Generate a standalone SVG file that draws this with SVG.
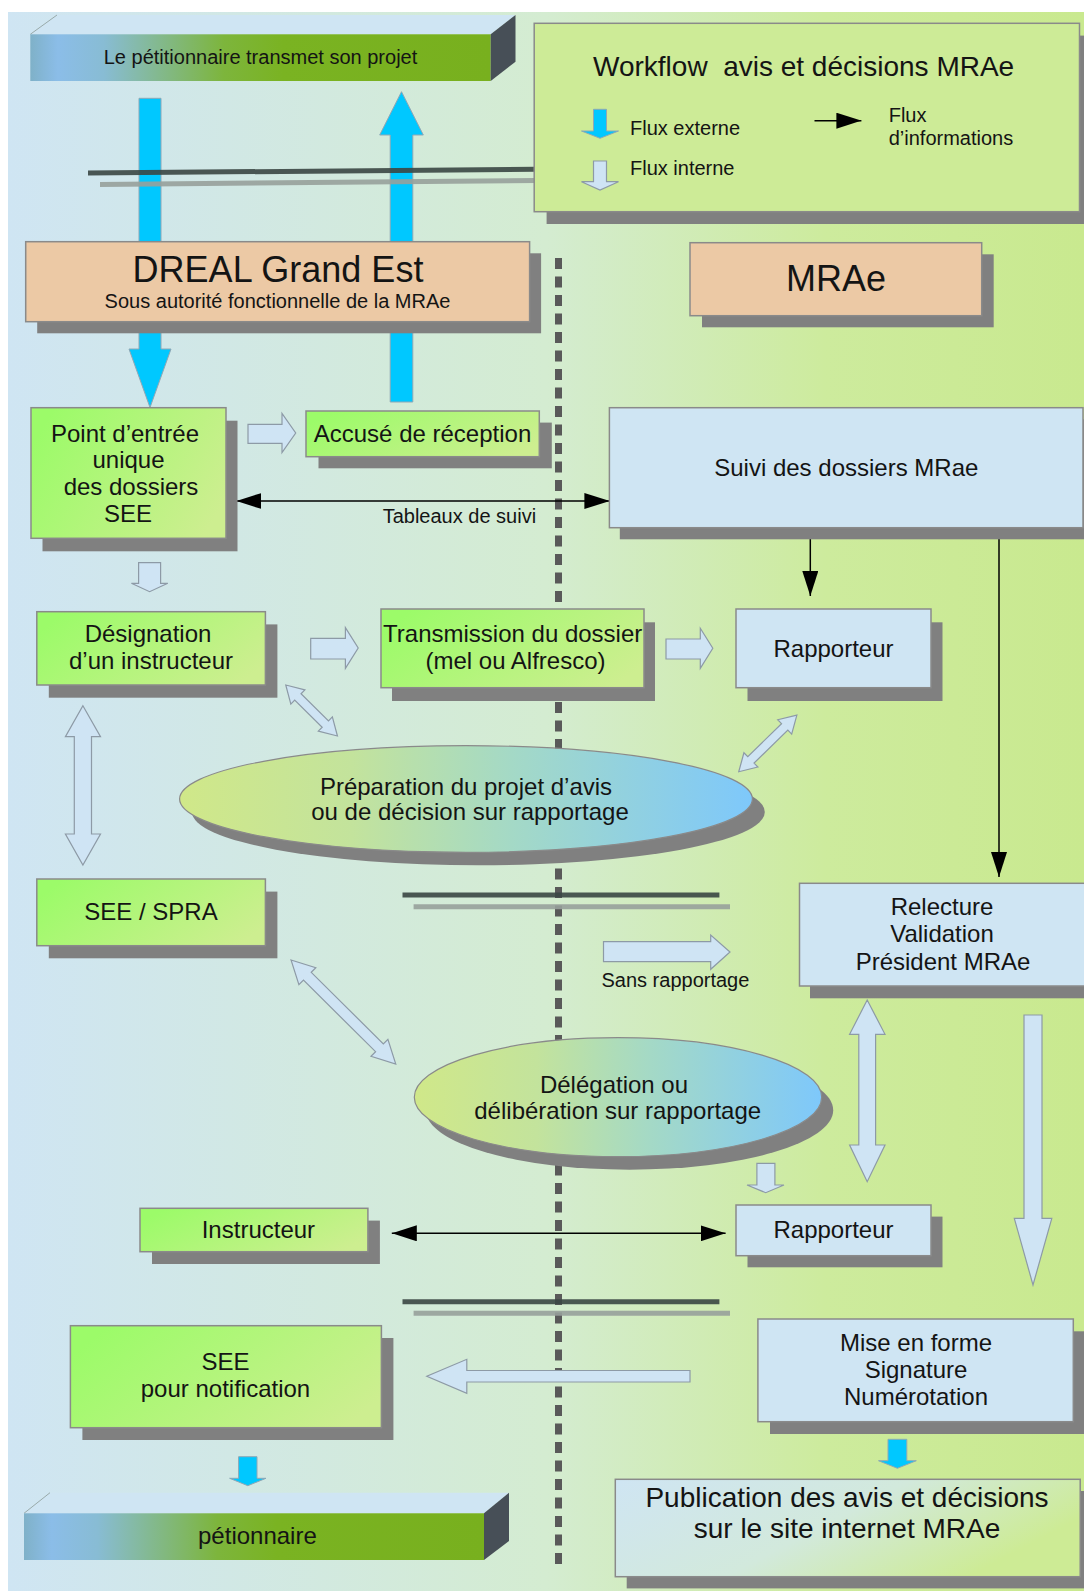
<svg xmlns="http://www.w3.org/2000/svg" width="1084" height="1591" viewBox="0 0 1084 1591">
<style>
.t{font-family:"Liberation Sans",Arial,sans-serif;fill:#141414;text-anchor:middle}
.s{text-anchor:start}
.f20{font-size:20px}.f24{font-size:24px}.f28{font-size:28px}.f36{font-size:36px}
.sh{fill:#808080}
.bx{stroke:#8a8a8a;stroke-width:1.5}
.green{fill:url(#gGreen)}
.lb{fill:#cfe5f3}
.peach{fill:#ecc9a5}
.light{fill:#cfe4f4;stroke:#8d9aa6;stroke-width:1.2}
.ext{fill:#00c8ff;stroke:#8ea8b6;stroke-width:1}
.info{stroke:#000;stroke-width:1.5;fill:none}
</style>
<defs>
<linearGradient id="gBg" x1="0" y1="0" x2="1" y2="0">
<stop offset="0" stop-color="#cfe5f3"/>
<stop offset="0.5" stop-color="#d4ecd1"/>
<stop offset="0.76" stop-color="#cdeb9d"/>
<stop offset="1" stop-color="#c9e98f"/>
</linearGradient>
<linearGradient id="gGreen" x1="0" y1="0.3" x2="1" y2="0.7">
<stop offset="0" stop-color="#9cfb69"/>
<stop offset="1" stop-color="#cdee90"/>
</linearGradient>
<linearGradient id="gEll" x1="0" y1="0" x2="1" y2="0">
<stop offset="0" stop-color="#d0e889"/>
<stop offset="0.3" stop-color="#c3e39c"/>
<stop offset="0.58" stop-color="#a4d9c6"/>
<stop offset="1" stop-color="#7ec8fb"/>
</linearGradient>
<linearGradient id="gBanner" x1="0" y1="0" x2="1" y2="0">
<stop offset="0" stop-color="#7fb1c8"/>
<stop offset="0.06" stop-color="#8bbde8"/>
<stop offset="0.16" stop-color="#88bcd4"/>
<stop offset="0.42" stop-color="#7db53c"/>
<stop offset="0.55" stop-color="#7ab322"/>
<stop offset="1" stop-color="#78b01e"/>
</linearGradient>
<linearGradient id="gPub" x1="0" y1="0" x2="1" y2="0.4">
<stop offset="0" stop-color="#cfe5f3"/>
<stop offset="0.55" stop-color="#d2e9dc"/>
<stop offset="1" stop-color="#cdeb95"/>
</linearGradient>
<marker id="ah" viewBox="0 0 25 16" markerWidth="25" markerHeight="16" refX="25" refY="8" orient="auto-start-reverse" markerUnits="userSpaceOnUse">
<path d="M0,0 L25,8 L0,16 z" fill="#000"/>
</marker>
</defs>

<!-- background -->
<rect x="8" y="12" width="1076" height="1579" fill="url(#gBg)"/>
<line x1="558.5" y1="258" x2="558.5" y2="1566" stroke="#595959" stroke-width="7" stroke-dasharray="11 7.5"/>

<g id="connectors">
<!-- external flows (blue) -->
<polygon class="ext" points="139,98.3 161,98.3 161,349 171,349 150,407.5 129,349 139,349"/>
<polygon class="ext" points="401.5,91.7 423.3,135 412.8,135 412.8,402 390.2,402 390.2,135 379.7,135"/>
<polygon class="ext" points="238.6,1456.7 257,1456.7 257,1478.3 266,1478.3 247.8,1485.7 229.6,1478.3 238.6,1478.3"/>
<polygon class="ext" points="888,1439.3 906.8,1439.3 906.8,1460.7 916.3,1460.7 897.4,1468.3 878.5,1460.7 888,1460.7"/>
<!-- internal flows (light) -->
<polygon class="light" points="248,424.3 282,424.3 282,413.3 295.7,433 282,452.7 282,443.3 248,443.3"/>
<polygon class="light" points="310.7,638.3 345.4,638.3 345.4,627.7 358.2,648 345.4,668.3 345.4,659 310.7,659"/>
<polygon class="light" points="666,639 700.3,639 700.3,628.3 712.8,648.3 700.3,668.3 700.3,659 666,659"/>
<polygon class="light" points="603.5,941.7 710.7,941.7 710.7,935 730,952 710.7,969.3 710.7,961.7 603.5,961.7"/>
<polygon class="light" points="690,1370.5 466.8,1370.5 466.8,1359.3 426.8,1376.3 466.8,1393.3 466.8,1382 690,1382"/>
<polygon class="light" points="138.6,562.7 160.6,562.7 160.6,583.3 167.8,583.3 149.6,591.7 131.4,583.3 138.6,583.3"/>
<polygon class="light" points="756.9,1163.3 774.9,1163.3 774.9,1185 784,1185 765.7,1192.7 747,1185 756.9,1185"/>
<polygon class="light" points="1024,1015 1042,1015 1042,1218.3 1051.8,1218.3 1033,1285 1014.3,1218.3 1024,1218.3"/>
<polygon class="light" points="82.9,705.7 100.5,736.7 91.5,736.7 91.5,834 100.5,834 82.9,865 65.4,834 74.3,834 74.3,736.7 65.4,736.7"/>
<polygon class="light" points="867.2,1000 885,1034.3 875.6,1034.3 875.6,1145 885,1145 867.2,1181.7 849.6,1145 858.8,1145 858.8,1034.3 849.6,1034.3"/>
<polygon class="light" transform="translate(311.6,710.5) rotate(44.6)" points="-36.3,0 -19.3,-10 -19.3,-4.5 19.3,-4.5 19.3,-10 36.3,0 19.3,10 19.3,4.5 -19.3,4.5 -19.3,10"/>
<polygon class="light" transform="translate(767.8,743.4) rotate(-44.3)" points="-40.6,0 -23.6,-10 -23.6,-4.5 23.6,-4.5 23.6,-10 40.6,0 23.6,10 23.6,4.5 -23.6,4.5 -23.6,10"/>
<polygon class="light" transform="translate(343.4,1012) rotate(44.8)" points="-73.8,0 -50.8,-12 -50.8,-5.5 50.8,-5.5 50.8,-12 73.8,0 50.8,12 50.8,5.5 -50.8,5.5 -50.8,12"/>
<!-- information flows -->
<path class="info" d="M236.4,501 H609.4" marker-start="url(#ah)" marker-end="url(#ah)"/>
<path class="info" d="M810.3,528 V596" marker-end="url(#ah)"/>
<path class="info" d="M999,528 V877" marker-end="url(#ah)"/>
<path class="info" d="M391.8,1233.3 H725.6" marker-start="url(#ah)" marker-end="url(#ah)"/>
</g>

<!-- separators -->
<g id="separators" stroke-width="5" opacity="0.9">
<line x1="88" y1="173" x2="536" y2="169.3" stroke="#3b4744"/>
<line x1="100" y1="184.5" x2="536" y2="180.5" stroke="#98a19c"/>
<line x1="402.5" y1="895" x2="719.4" y2="895" stroke="#3b4744"/>
<line x1="413.6" y1="906.7" x2="730" y2="906.7" stroke="#98a19c"/>
<line x1="402.5" y1="1301.7" x2="719.4" y2="1301.7" stroke="#3b4744"/>
<line x1="413.6" y1="1313.3" x2="730" y2="1313.3" stroke="#98a19c"/>
</g>

<g id="banner-top">
<polygon points="30.3,34.3 57,15 515.5,15 490.7,34.3" fill="#cfe5f3"/>
<line x1="30.3" y1="34.3" x2="57" y2="15" stroke="#9aa" stroke-width="1"/>
<rect x="30.3" y="34.3" width="460.4" height="46.7" fill="url(#gBanner)"/>
<polygon points="490.7,34.3 515.5,15 515.5,61.7 490.7,81" fill="#474f57"/>
<text class="t f20" x="260.5" y="64">Le pétitionnaire transmet son projet</text>
</g>

<g id="legend">
<rect class="sh" x="546.6" y="35.6" width="545" height="188.4"/>
<rect x="534.2" y="23.3" width="545.3" height="188.4" fill="#cdeb97" class="bx"/>
<text class="t s f28" x="593" y="76" xml:space="preserve">Workflow  avis et décisions MRAe</text>
<polygon class="ext" points="593.5,109.3 606.5,109.3 606.5,131 618.5,131 600,138.3 581.5,131 593.5,131"/>
<text class="t s f20" x="630" y="135">Flux externe</text>
<polygon class="light" points="593.5,161 606.5,161 606.5,181.7 618.5,181.7 600,190 581.5,181.7 593.5,181.7"/>
<text class="t s f20" x="630" y="175">Flux interne</text>
<path class="info" d="M814.5,120.7 H861.4" marker-end="url(#ah)"/>
<text class="t s f20" x="888.7" y="121.7">Flux</text>
<text class="t s f20" x="888.7" y="145">d’informations</text>
</g>

<g id="dreal">
<rect class="sh" x="37.2" y="253.3" width="503.9" height="80"/>
<rect class="bx peach" x="25.7" y="241.7" width="503.9" height="80"/>
<text class="t f36" x="278" y="282.3">DREAL Grand Est</text>
<text class="t f20" x="277.5" y="307.7">Sous autorité fonctionnelle de la MRAe</text>
</g>

<g id="mrae">
<rect class="sh" x="702" y="254.3" width="291.7" height="73"/>
<rect class="bx peach" x="690" y="242.7" width="291.7" height="73"/>
<text class="t f36" x="836" y="290.7">MRAe</text>
</g>

<g id="point-entree">
<rect class="sh" x="42.5" y="420.7" width="195" height="130.6"/>
<rect class="bx green" x="31" y="407.7" width="195" height="130.6"/>
<text class="t f24" x="125" y="441.7">Point d’entrée</text>
<text class="t f24" x="128.5" y="468.3">unique</text>
<text class="t f24" x="131" y="495">des dossiers</text>
<text class="t f24" x="128" y="521.7">SEE</text>
</g>

<g id="accuse">
<rect class="sh" x="318.5" y="422.6" width="233.3" height="45.7"/>
<rect class="bx green" x="306" y="411" width="233.3" height="45.7"/>
<text class="t f24" x="422.5" y="441.7">Accusé de réception</text>
</g>

<text class="t f20" x="459.4" y="523.3">Tableaux de suivi</text>

<g id="suivi">
<rect class="sh" x="619.8" y="419.3" width="480" height="120"/>
<rect class="bx lb" x="609.4" y="407.7" width="473.6" height="120"/>
<text class="t f24" x="846.3" y="476">Suivi des dossiers MRae</text>
</g>

<g id="designation">
<rect class="sh" x="48.8" y="624.4" width="228.6" height="73.3"/>
<rect class="bx green" x="36.8" y="611.7" width="228.6" height="73.3"/>
<text class="t f24" x="148" y="642.3">Désignation</text>
<text class="t f24" x="151" y="669">d’un instructeur</text>
</g>

<g id="transmission">
<rect class="sh" x="392" y="622.3" width="263" height="78.7"/>
<rect class="bx green" x="381" y="609" width="263" height="78.7"/>
<text class="t f24" x="512.7" y="642.3">Transmission du dossier</text>
<text class="t f24" x="515.5" y="669">(mel ou Alfresco)</text>
</g>

<g id="rapporteur1">
<rect class="sh" x="747.5" y="622.3" width="195" height="78.7"/>
<rect class="bx lb" x="736" y="609" width="195" height="78.7"/>
<text class="t f24" x="833.5" y="657.3">Rapporteur</text>
</g>

<g id="preparation">
<ellipse class="sh" cx="478.4" cy="812" rx="286.4" ry="53.3"/>
<ellipse cx="466" cy="799" rx="286.4" ry="53.3" fill="url(#gEll)" stroke="#8a8a8a" stroke-width="1.2"/>
<text class="t f24" x="466" y="795">Préparation du projet d’avis</text>
<text class="t f24" x="470" y="820">ou de décision sur rapportage</text>
</g>

<g id="see-spra">
<rect class="sh" x="48.8" y="891.6" width="228.6" height="66.7"/>
<rect class="bx green" x="36.8" y="879" width="228.6" height="66.7"/>
<text class="t f24" x="151" y="920">SEE / SPRA</text>
</g>

<text class="t f20" x="675.4" y="987.3">Sans rapportage</text>

<g id="relecture">
<rect class="sh" x="810" y="895.6" width="290" height="102.7"/>
<rect class="bx lb" x="799.5" y="883.3" width="290" height="102.7"/>
<text class="t f24" x="942" y="915">Relecture</text>
<text class="t f24" x="942" y="942.3">Validation</text>
<text class="t f24" x="943" y="970">Président MRAe</text>
</g>

<g id="delegation">
<ellipse class="sh" cx="629.5" cy="1110.2" rx="203.7" ry="59.5"/>
<ellipse cx="618" cy="1097.2" rx="203.7" ry="59.5" fill="url(#gEll)" stroke="#8a8a8a" stroke-width="1.2"/>
<text class="t f24" x="614" y="1093.3">Délégation ou</text>
<text class="t f24" x="617.7" y="1119">délibération sur rapportage</text>
</g>

<g id="instructeur">
<rect class="sh" x="152" y="1220.6" width="227.9" height="43.4"/>
<rect class="bx green" x="140" y="1208.3" width="227.9" height="43.4"/>
<text class="t f24" x="258.4" y="1238.3">Instructeur</text>
</g>

<g id="rapporteur2">
<rect class="sh" x="747.5" y="1216.6" width="195" height="50.7"/>
<rect class="bx lb" x="736" y="1205" width="195" height="50.7"/>
<text class="t f24" x="833.5" y="1238.3">Rapporteur</text>
</g>

<g id="see-notification">
<rect class="sh" x="82.4" y="1338" width="311" height="102"/>
<rect class="bx green" x="70.4" y="1325.7" width="311" height="102"/>
<text class="t f24" x="225.4" y="1370">SEE</text>
<text class="t f24" x="225.5" y="1396.7">pour notification</text>
</g>

<g id="mise-en-forme">
<rect class="sh" x="770" y="1331.3" width="320" height="102.7"/>
<rect class="bx lb" x="757.9" y="1319" width="315.4" height="102.7"/>
<text class="t f24" x="916" y="1351">Mise en forme</text>
<text class="t f24" x="916" y="1378.3">Signature</text>
<text class="t f24" x="916" y="1405">Numérotation</text>
</g>

<g id="publication">
<rect class="sh" x="626.7" y="1491" width="470" height="97.4"/>
<rect class="bx" x="615.3" y="1479.3" width="464.9" height="97.4" fill="url(#gPub)"/>
<text class="t f28" x="847" y="1506.7">Publication des avis et décisions</text>
<text class="t f28" x="847" y="1538.3">sur le site internet MRAe</text>
</g>

<g id="banner-bottom">
<polygon points="24,1513.3 50,1492.7 509,1492.7 484,1513.3" fill="#cfe5f3"/>
<line x1="24" y1="1513.3" x2="50" y2="1492.7" stroke="#9aa" stroke-width="1"/>
<rect x="24" y="1513.3" width="460" height="46.7" fill="url(#gBanner)"/>
<polygon points="484,1513.3 509,1492.7 509,1541 484,1560" fill="#474f57"/>
<text class="t f24" x="257.4" y="1544.3">pétionnaire</text>
</g>
</svg>
